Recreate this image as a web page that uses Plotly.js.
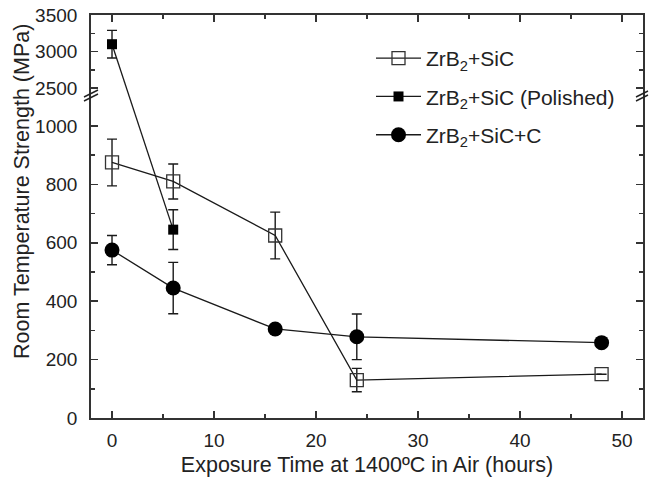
<!DOCTYPE html>
<html>
<head>
<meta charset="utf-8">
<script src="https://cdn.plot.ly/plotly-3.0.1.min.js"></script>
<style>html,body{margin:0;padding:0;background:#fff;}#chart{width:649px;height:477px;}</style>
</head>
<body>
<div id="chart"></div>
<script>
// ---- data ----
const xHours = [0, 6, 16, 24, 48];
const sicStrength = [875, 810, 625, 130, 150];
const sicErr = [80, 60, 80, 40, 0];
const polishedHours = [0, 6];
const polishedStrength = [3100, 645];
const polishedErr = [190, 68];
const sicCStrength = [575, 445, 305, 278, 258];
const sicCErr = [50, 88, 0, 78, 0];
const seriesNames = ["ZrB<sub>2</sub>+SiC", "ZrB<sub>2</sub>+SiC (Polished)", "ZrB<sub>2</sub>+SiC+C"];
const yMajorTicks = [0, 200, 400, 600, 800, 1000, 2500, 3000, 3500];
const yMinorTicks = [100, 300, 500, 700, 900, 2750, 3250];
const xTitle = "Exposure Time at 1400ºC in Air (hours)";
const yTitle = "Room Temperature Strength (MPa)";

// ---- broken-axis transform ----
const BREAK_LOW = 1100, BREAK_HIGH = 2380, UPPER_RATIO = 0.25;
function T(v){ return v <= BREAK_LOW ? v : BREAK_LOW + (v - BREAK_HIGH) * UPPER_RATIO; }
const yTop = T(3500);

function mk(xs, vals, errs, name, marker, grp){
  return {
    x: xs, y: vals.map(T), name: name, legendgroup: grp, type: 'scatter', mode: 'lines+markers',
    line: {color: '#1a1a1a', width: 1.3},
    marker: marker,
    error_y: {type: 'data', symmetric: false,
      array: vals.map((v,i)=> T(v+errs[i]) - T(v)),
      arrayminus: vals.map((v,i)=> T(v) - T(v-errs[i])),
      color: '#1a1a1a', thickness: 1.4, width: 5, visible: true},
    cliponaxis: false
  };
}
const traces = [
  mk(xHours, sicStrength, sicErr, seriesNames[0], {symbol:'square-open', size:13, color:'#333', line:{width:1.3, color:'#333'}}, 'a'),
  mk(polishedHours, polishedStrength, polishedErr, seriesNames[1], {symbol:'square', size:10, color:'#000'}, 'b'),
  mk(xHours, sicCStrength, sicCErr, seriesNames[2], {symbol:'circle', size:15, color:'#000'}, 'c')
];

// pixel -> paper helpers for decorations
const L = 91, R = 643, TP = 15, B = 418;
const px = p => (p - L) / (R - L);
const py = p => (B - p) / (B - TP);
const brk = (x0,y0,x1,y1) => ({type:'line', xref:'paper', yref:'paper', x0:px(x0), y0:py(y0), x1:px(x1), y1:py(y1), line:{color:'#222', width:1.4}});

const FONT = 'Liberation Sans, Arial, sans-serif';
const axisCommon = {showline:true, linecolor:'#333', linewidth:1.8, mirror:'ticks', ticks:'inside',
  ticklen:7, tickwidth:1.5, tickcolor:'#333', showgrid:false, zeroline:false,
  tickfont:{family:FONT, size:19, color:'#222'}};

const layout = {
  width: 649, height: 477,
  margin: {l: L, r: 649 - R, t: TP, b: 477 - B},
  paper_bgcolor: '#fff', plot_bgcolor: '#fff',
  font: {family: FONT, color: '#222'},
  showlegend: true,
  legend: {x: px(371), y: py(38), xanchor:'left', yanchor:'top', bgcolor:'rgba(0,0,0,0)',
    font:{size:21, color:'#222'}, itemwidth: 45, tracegroupgap: 8},
  xaxis: Object.assign({}, axisCommon, {
    range: [-2.06, 52.06], tick0: 0, dtick: 10,
    minor: {dtick: 5, ticks:'inside', ticklen: 4, tickwidth: 1.5, tickcolor:'#333'},
    ticklabelstandoff: 4,
    title: {text: xTitle, font:{size:21.5, color:'#222'}, standoff: 8}
  }),
  yaxis: Object.assign({}, axisCommon, {
    range: [0, yTop], tickmode: 'array',
    tickvals: yMajorTicks.map(T), ticktext: yMajorTicks.map(String),
    minor: {tickmode:'array', tickvals: yMinorTicks.map(T), ticks:'inside', ticklen: 4, tickwidth: 1.5, tickcolor:'#333'},
    ticklabelstandoff: 8
  }),
  annotations: [{text: yTitle, textangle: -90, xref:'paper', yref:'paper', x: px(22), y: py(192),
    xanchor:'center', yanchor:'middle', showarrow:false, font:{size:21.5, color:'#222'}}],
  shapes: [
    brk(84, 101, 98, 94), brk(84, 97, 98, 90),
    brk(636, 101, 648, 95), brk(636, 97, 648, 91)
  ]
};
Plotly.newPlot('chart', traces, layout, {displayModeBar:false, staticPlot:true});
</script>
</body>
</html>
